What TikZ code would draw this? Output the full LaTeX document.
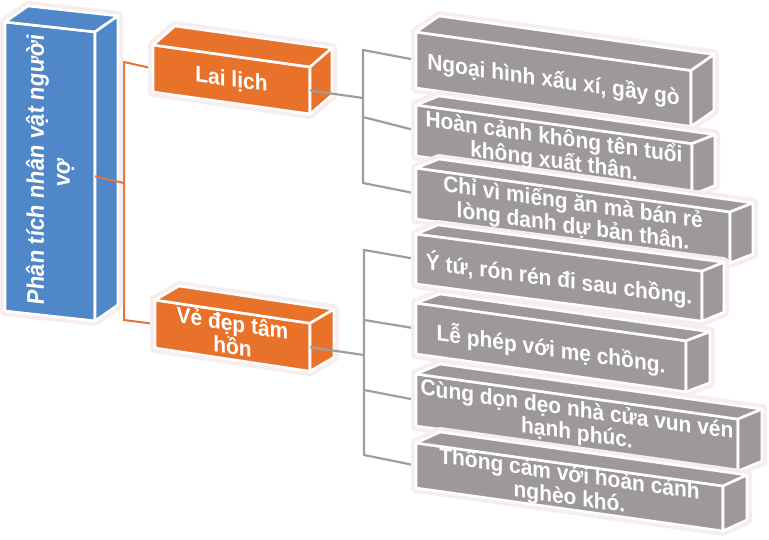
\documentclass[tikz,border=0pt]{standalone}
\usepackage{fontspec}
\usepackage{graphicx}
\setmainfont{Liberation Sans}[FakeStretch=0.93]
\usetikzlibrary{calc,backgrounds}
\definecolor{cblue}{HTML}{4F87C8}
\definecolor{corange}{HTML}{E8722A}
\definecolor{cgray}{HTML}{9D999B}
\definecolor{cglow}{HTML}{F7ECEE}
\definecolor{cline}{HTML}{9E9E9E}
\definecolor{corline}{HTML}{E0743A}
\tikzset{
  face/.style={draw=white, line width=2.6pt, inner sep=0pt, outer sep=0pt, anchor=north west},
  facetext/.style={text=white, inner sep=0pt, align=center, font=\bfseries\fontsize{22.5}{23.5}\selectfont},
  glow/.style={draw=cglow, fill=cglow, line width=10pt, line join=round},
  side/.style={draw=white, line width=2.6pt, line join=round},
  grayline/.style={draw=cline, line width=2.2pt},
  orline/.style={draw=corline, line width=2pt},
}
% #1 name, #2 top-left, #3 width, #4 height, #5 slope, #6 depth, #7 colour
\newcommand\cubebox[7]{%
  \path[glow] ($#2+(0,#4)$) -- #2 -- ($#2+#6$) -- ($#2+(#3,{#3*#5})+#6$)
     -- ($#2+(#3,{#4+#3*#5})+#6$) -- ($#2+(#3,{#4+#3*#5})$) -- cycle;
  \node[face, fill=#7, minimum width=#3pt, minimum height=#4pt, yslant=-#5] (#1) at #2 {};
  \path[side, fill=#7] (#1.north west) -- ($(#1.north west)+#6$) -- ($(#1.north east)+#6$) -- (#1.north east) -- cycle;
  \path[side, fill=#7] (#1.north east) -- ($(#1.north east)+#6$) -- ($(#1.south east)+#6$) -- (#1.south east) -- cycle;
}
% #1 box name, #2 slope, #3 style, #4 text
\newcommand\cubetext[4]{%
  \node[facetext, yslant=-#2, #3] (#1-t) at (#1.center) {#4};
}
\begin{document}
\begin{tikzpicture}[x=1pt,y=-1pt]
\useasboundingbox (0,0) rectangle (769,539);
% bus coordinates
\coordinate (ot) at (124,62);
\coordinate (ob) at (124,320);
\coordinate (om) at (124,183);
\coordinate (a1) at (363,50);
\coordinate (a2) at (363,117);
\coordinate (a3) at (363,183);
\coordinate (am) at (363,98);
\coordinate (b1) at (364,250);
\coordinate (b2) at (364,320);
\coordinate (b3) at (364,390);
\coordinate (b4) at (364,455);
\coordinate (bm) at (364,355);

\cubebox{blue}{(5,22)}{90}{289}{0.11}{(23,-16)}{cblue}
\cubebox{lai}{(153,45)}{157}{47}{0.14}{(22,-19)}{corange}
\cubebox{ve}{(155,300)}{155}{48}{0.15}{(24,-14)}{corange}

\cubebox{g1}{(416,32)}{275}{56}{0.14}{(23,-16)}{cgray}
\cubebox{g2}{(416,105)}{276}{51}{0.14}{(23,-9)}{cgray}
\cubebox{g3}{(416,168)}{314}{51}{0.14}{(23,-9)}{cgray}
\cubebox{g4}{(416,234)}{286}{50}{0.13}{(22,-9)}{cgray}
\cubebox{g5}{(416,303)}{270}{51}{0.14}{(24,-9)}{cgray}
\cubebox{g6}{(416,374)}{322}{52}{0.14}{(24,-10)}{cgray}
\cubebox{g7}{(416,443)}{307}{45}{0.14}{(24,-11)}{cgray}

\begin{pgfonlayer}{background}
  \draw[orline] (lai.west) -- (ot) -- (ob) -- (ve.west);
  \draw[grayline] (g1.west) -- (a1) -- (a3) -- (g3.west);
  \draw[grayline] (a2) -- (g2.west);
  \draw[grayline] (g4.west) -- (b1) -- (b4) -- (g7.west);
  \draw[grayline] (b2) -- (g5.west);
  \draw[grayline] (b3) -- (g6.west);
\end{pgfonlayer}
\draw[orline] (blue.east) -- (om);
\draw[grayline] (lai.east) -- (am);
\draw[grayline] (ve.east) -- (bm);

\cubetext{blue}{0.11}{font=\bfseries\fontsize{24}{26}\selectfont}{\rotatebox{90}{\parbox{290pt}{\centering Phân tích nhân vật người\\ vợ}}}
\cubetext{lai}{0.14}{yshift=-1pt}{Lai lịch}
\cubetext{ve}{0.15}{yshift=1pt}{Vẻ đẹp tâm\\hồn}
\cubetext{g1}{0.14}{yshift=-2pt}{Ngoại hình xấu xí, gầy gò}
\cubetext{g2}{0.14}{}{Hoàn cảnh không tên tuổi\\không xuất thân.}
\cubetext{g3}{0.14}{}{Chỉ vì miếng ăn mà bán rẻ\\lòng danh dự bản thân.}
\cubetext{g4}{0.13}{yshift=-2pt}{Ý tứ, rón rén đi sau chồng.}
\cubetext{g5}{0.14}{yshift=-2pt}{Lễ phép với mẹ chồng.}
\cubetext{g6}{0.14}{}{Cùng dọn dẹo nhà cửa vun vén\\hạnh phúc.}
\cubetext{g7}{0.14}{}{Thông cảm với hoàn cảnh\\nghèo khó.}
\end{tikzpicture}
\end{document}
